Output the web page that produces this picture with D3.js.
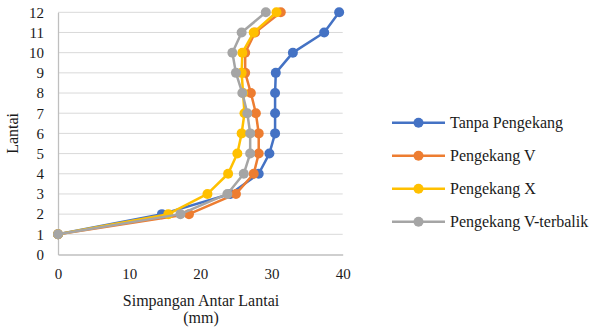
<!DOCTYPE html>
<html>
<head>
<meta charset="utf-8">
<script src="https://cdn.jsdelivr.net/npm/d3@7"></script>
<style>
  body { margin: 0; background: #fff; }
</style>
</head>
<body>
<div id="chart"></div>
<script>
var floors = [1, 2, 3, 4, 5, 6, 7, 8, 9, 10, 11, 12];
var seriesNames = ["Tanpa Pengekang", "Pengekang V", "Pengekang X", "Pengekang V-terbalik"];
var tanpa   = [0, 14.6, 24.2, 28.2, 29.7, 30.5, 30.5, 30.5, 30.6, 33.0, 37.4, 39.5];
var vBrace  = [0, 18.4, 25.0, 27.5, 28.2, 28.2, 27.8, 27.1, 26.3, 26.3, 27.7, 31.3];
var xBrace  = [0, 15.5, 21.0, 23.9, 25.2, 25.8, 26.2, 26.0, 25.8, 25.9, 27.5, 30.7];
var vInv    = [0, 17.2, 23.8, 26.1, 27.0, 27.0, 26.6, 25.9, 25.0, 24.5, 25.8, 29.2];
var colors  = ["#4472C4", "#ED7D31", "#FFC000", "#A5A5A5"];
var xTicks = [0, 10, 20, 30, 40];
var yTicks = [0, 1, 2, 3, 4, 5, 6, 7, 8, 9, 10, 11, 12];

var allSeries = [tanpa, vBrace, xBrace, vInv];
var FONT = "Liberation Serif";

var W = 591, H = 333;
var svg = d3.select("#chart").append("svg")
    .attr("width", W).attr("height", H)
    .attr("font-family", FONT);

var x = d3.scaleLinear().domain([0, 40]).range([58, 342.7]);
var y = d3.scaleLinear().domain([0, 12]).range([254.5, 12.3]);

// gridlines
svg.append("g").selectAll("line")
  .data(yTicks.filter(function(d) { return d > 0; }))
  .enter().append("line")
    .attr("x1", x(0)).attr("x2", x(40))
    .attr("y1", function(d) { return y(d); })
    .attr("y2", function(d) { return y(d); })
    .attr("stroke", "#d9d9d9").attr("stroke-width", 1);

// axes
var xAxis = svg.append("g")
  .attr("transform", "translate(0," + y(0) + ")")
  .call(d3.axisBottom(x).tickValues(xTicks).tickSize(0).tickPadding(14));
var yAxis = svg.append("g")
  .attr("transform", "translate(" + x(0) + ",0)")
  .call(d3.axisLeft(y).tickValues(yTicks).tickSize(0).tickPadding(14));
[xAxis, yAxis].forEach(function(a) {
  a.attr("font-family", FONT).attr("font-size", 15);
  a.select(".domain").attr("stroke", "#bfbfbf").attr("stroke-width", 1.3);
  a.selectAll("text").attr("fill", "#1a1a1a");
});

// axis titles
svg.append("text")
  .attr("x", 201).attr("y", 306)
  .attr("text-anchor", "middle").attr("font-size", 16).attr("fill", "#1a1a1a")
  .text("Simpangan Antar Lantai");
svg.append("text")
  .attr("x", 201).attr("y", 323)
  .attr("text-anchor", "middle").attr("font-size", 16).attr("fill", "#1a1a1a")
  .text("(mm)");
svg.append("text")
  .attr("transform", "translate(18," + y(6) + ") rotate(-90)")
  .attr("text-anchor", "middle").attr("font-size", 16).attr("fill", "#1a1a1a")
  .text("Lantai");

// series
var line = d3.line()
  .x(function(d) { return x(d.v); })
  .y(function(d) { return y(d.f); });

allSeries.forEach(function(vals, i) {
  var pts = vals.map(function(v, j) { return {v: v, f: floors[j]}; });
  var g = svg.append("g");
  g.append("path").datum(pts)
    .attr("d", line)
    .attr("fill", "none")
    .attr("stroke", colors[i])
    .attr("stroke-width", 2.5)
    .attr("stroke-linejoin", "round");
  g.selectAll("circle").data(pts).enter().append("circle")
    .attr("cx", function(d) { return x(d.v); })
    .attr("cy", function(d) { return y(d.f); })
    .attr("r", 5)
    .attr("fill", colors[i]);
});

// legend
var legend = svg.append("g");
seriesNames.forEach(function(name, i) {
  var ly = 122.7 + i * 33;
  legend.append("line")
    .attr("x1", 392).attr("x2", 445)
    .attr("y1", ly).attr("y2", ly)
    .attr("stroke", colors[i]).attr("stroke-width", 2.5);
  legend.append("circle")
    .attr("cx", 418.5).attr("cy", ly).attr("r", 5)
    .attr("fill", colors[i]);
  legend.append("text")
    .attr("x", 450).attr("y", ly + 5)
    .attr("font-size", 16).attr("fill", "#1a1a1a")
    .text(name);
});
</script>
</body>
</html>
